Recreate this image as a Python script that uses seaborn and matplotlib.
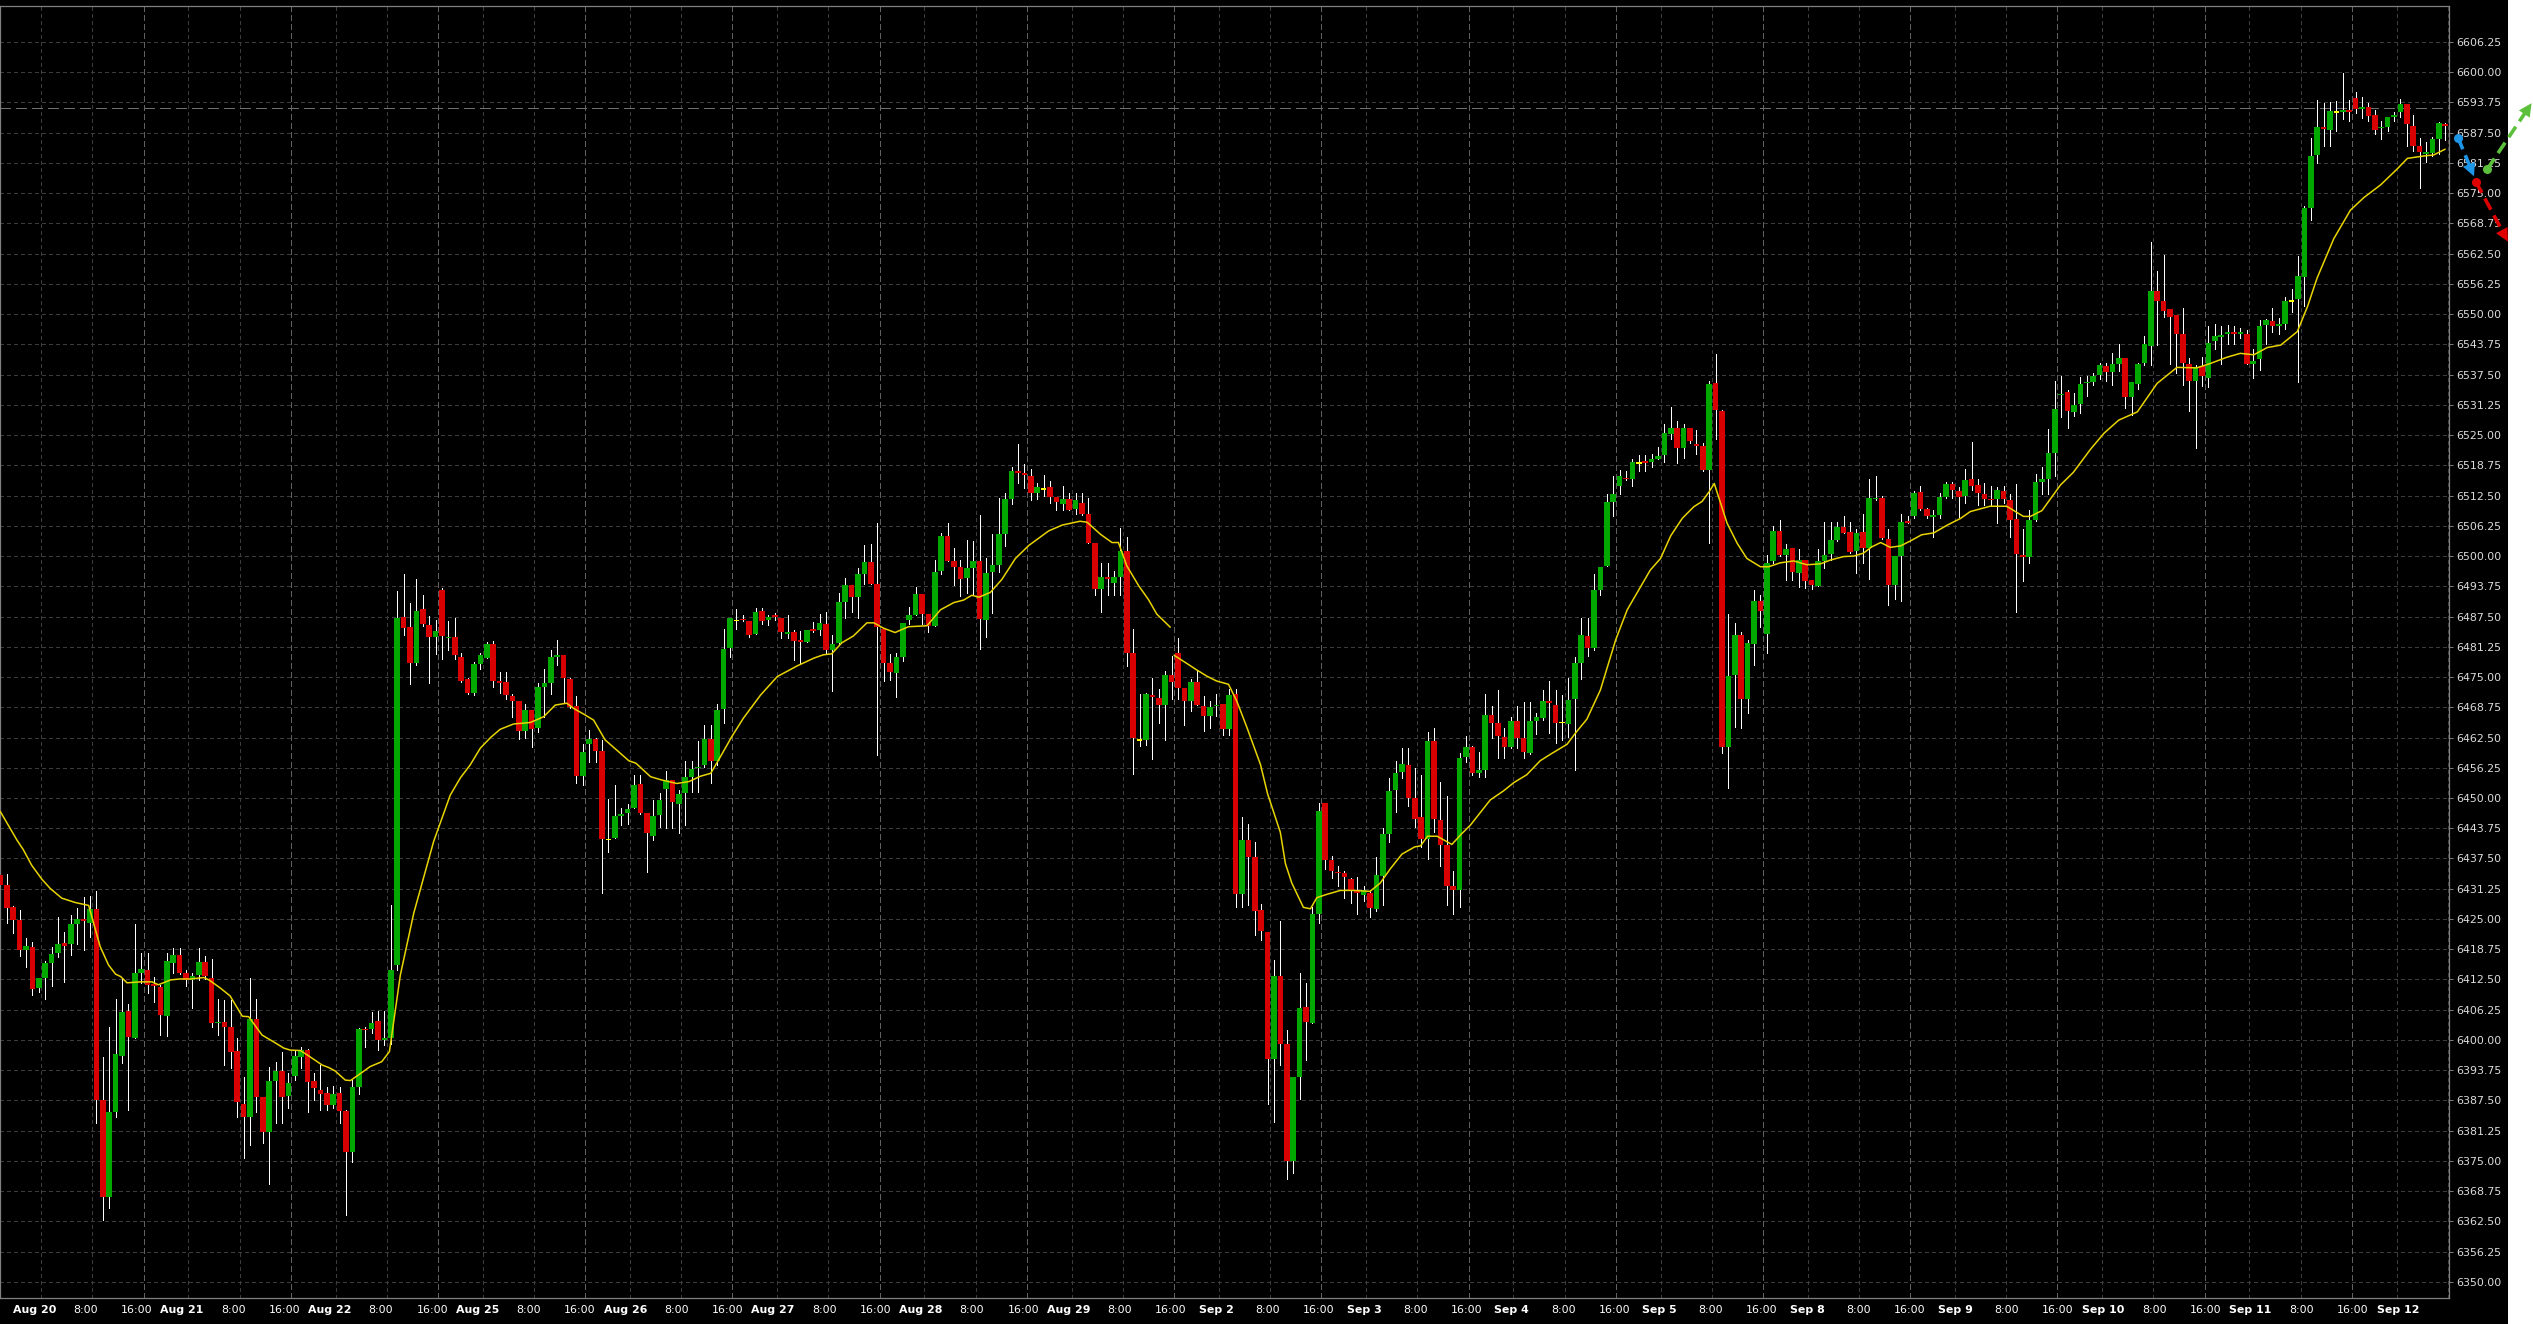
import numpy as np
import pandas as pd
import matplotlib
matplotlib.use("Agg")
import matplotlib.pyplot as plt
import seaborn as sns
from matplotlib.patches import Rectangle, Polygon

# ---------------- data (hourly bars) ----------------
open_ = [
6434.1, 6432.0, 6427.5, 6424.8, 6418.6, 6419.3, 6410.8, 6412.9, 6415.8, 6417.9,
6420.0, 6419.9, 6424.0, 6424.9, 6424.2, 6427.0, 6387.6, 6367.6, 6385.2, 6396.7,
6406.0, 6400.3, 6413.9, 6414.5, 6411.6, 6410.9, 6405.0, 6416.0, 6417.6, 6413.9,
6412.4, 6413.4, 6416.2, 6412.9, 6403.4, 6403.7, 6402.7, 6397.7, 6386.8, 6384.1,
6404.3, 6388.2, 6381.0, 6391.6, 6393.6, 6388.5, 6392.6, 6396.5, 6397.9, 6391.5,
6389.7, 6389.0, 6386.6, 6389.0, 6385.3, 6376.9, 6390.3, 6402.3, 6402.3, 6403.9,
6399.9, 6400.3, 6415.4, 6487.4, 6485.3, 6477.8, 6489.0, 6485.8, 6483.3, 6493.0,
6483.0, 6483.3, 6479.1, 6474.6, 6471.7, 6477.6, 6479.0, 6481.8, 6474.2, 6474.0,
6471.1, 6470.1, 6463.9, 6468.2, 6464.5, 6473.0, 6473.8, 6479.2, 6479.6, 6474.6,
6469.0, 6454.6, 6461.2, 6462.1, 6459.8, 6441.4, 6441.8, 6446.3, 6446.8, 6448.0,
6452.9, 6446.8, 6442.2, 6446.4, 6451.9, 6453.7, 6448.8, 6451.0, 6454.4, 6456.1,
6456.9, 6462.2, 6457.7, 6468.3, 6480.9, 6486.7, 6487.0, 6486.6, 6483.9, 6488.7,
6486.7, 6487.8, 6487.3, 6483.9, 6484.4, 6482.7, 6482.3, 6484.9, 6484.7, 6485.9,
6480.6, 6482.1, 6490.6, 6494.0, 6491.6, 6496.3, 6498.8, 6494.2, 6484.9, 6477.8,
6475.9, 6479.1, 6486.7, 6487.8, 6492.2, 6488.0, 6485.5, 6496.9, 6504.1, 6499.0,
6497.7, 6495.5, 6497.5, 6498.9, 6486.8, 6496.7, 6498.1, 6504.6, 6511.7, 6517.6,
6517.2, 6516.5, 6513.0, 6513.9, 6514.2, 6512.2, 6510.8, 6511.8, 6509.8, 6511.0,
6508.8, 6502.7, 6493.1, 6495.7, 6494.5, 6495.6, 6501.0, 6479.9, 6462.0, 6462.0,
6471.2, 6470.7, 6469.2, 6475.5, 6479.9, 6472.7, 6470.1, 6474.0, 6469.0, 6466.9,
6469.0, 6469.5, 6464.3, 6471.5, 6430.2, 6441.4, 6437.9, 6426.9, 6422.4, 6396.0,
6413.2, 6399.1, 6375.0, 6392.3, 6406.8, 6403.6, 6426.1, 6448.9, 6437.1, 6434.7,
6434.4, 6433.3, 6430.7, 6430.0, 6430.4, 6427.1, 6433.9, 6442.6, 6451.7, 6455.3,
6456.9, 6449.9, 6446.0, 6441.6, 6461.7, 6445.4, 6440.2, 6431.9, 6430.9, 6458.4,
6460.5, 6455.1, 6455.8, 6467.2, 6465.4, 6462.6, 6460.6, 6465.9, 6462.3, 6459.4,
6466.0, 6466.6, 6470.1, 6469.2, 6465.6, 6465.2, 6470.4, 6478.0, 6483.4, 6481.1,
6492.9, 6498.0, 6511.1, 6514.4, 6516.2, 6515.9, 6519.3, 6519.6, 6519.5, 6520.1,
6520.8, 6525.3, 6526.5, 6522.4, 6526.5, 6523.2, 6522.8, 6517.7, 6535.8, 6529.9,
6460.6, 6475.4, 6483.6, 6470.4, 6481.9, 6490.7, 6483.9, 6498.9, 6505.1, 6500.2,
6501.7, 6496.6, 6499.2, 6495.1, 6493.8, 6498.9, 6500.4, 6503.3, 6506.0, 6505.0,
6501.1, 6505.0, 6501.6, 6511.7, 6512.0, 6503.5, 6494.0, 6500.0, 6507.2, 6508.2,
6513.3, 6509.7, 6508.0, 6508.4, 6512.2, 6514.9, 6513.4, 6512.5, 6515.9, 6514.7,
6512.9, 6511.9, 6511.7, 6513.4, 6511.6, 6507.7, 6500.3, 6499.8, 6507.5, 6515.4,
6515.9, 6521.3, 6533.2, 6533.9, 6529.8, 6531.5, 6535.7, 6535.9, 6537.4, 6539.3,
6538.1, 6539.6, 6541.0, 6532.8, 6535.6, 6540.0, 6543.5, 6554.7, 6552.7, 6551.1,
6549.9, 6545.9, 6539.6, 6536.2, 6539.2, 6536.9, 6544.4, 6545.3, 6545.8, 6546.3,
6545.8, 6545.9, 6539.8, 6540.7, 6547.8, 6548.6, 6547.5, 6548.0, 6552.7, 6553.1,
6557.7, 6571.9, 6582.8, 6588.7, 6588.1, 6591.8, 6591.8, 6592.2, 6594.7, 6592.4,
6592.9, 6591.1, 6588.4, 6588.6, 6590.7, 6591.8, 6593.4, 6588.9, 6584.8, 6583.0,
6583.4, 6586.3, 6589.2]

high = [
6435.0, 6434.2, 6427.7, 6426.9, 6421.0, 6420.2, 6412.9, 6416.3, 6419.3, 6425.5,
6422.3, 6425.8, 6427.2, 6429.6, 6429.8, 6430.8, 6396.5, 6402.7, 6408.5, 6412.9,
6407.4, 6424.0, 6418.0, 6418.0, 6413.0, 6411.4, 6418.0, 6418.9, 6418.9, 6414.5,
6413.8, 6418.9, 6417.3, 6416.7, 6408.5, 6408.3, 6408.3, 6400.3, 6392.4, 6412.9,
6408.5, 6388.3, 6394.5, 6395.5, 6397.4, 6393.1, 6397.8, 6398.6, 6398.1, 6393.1,
6394.8, 6390.3, 6390.5, 6390.3, 6385.5, 6391.7, 6402.4, 6402.7, 6405.8, 6406.0,
6406.0, 6427.8, 6492.7, 6496.3, 6490.4, 6495.2, 6492.0, 6487.7, 6486.8, 6493.5,
6486.6, 6487.3, 6479.9, 6474.8, 6478.2, 6479.9, 6482.2, 6482.5, 6476.0, 6476.0,
6471.5, 6470.1, 6469.4, 6468.2, 6473.7, 6476.6, 6480.6, 6482.7, 6479.6, 6474.7,
6471.1, 6461.1, 6464.1, 6462.5, 6462.0, 6449.8, 6452.7, 6447.9, 6448.8, 6454.8,
6454.8, 6446.8, 6449.6, 6451.0, 6455.5, 6453.7, 6451.7, 6457.7, 6457.7, 6461.8,
6465.1, 6465.1, 6469.4, 6484.9, 6487.2, 6489.1, 6487.8, 6486.6, 6489.2, 6489.2,
6487.8, 6488.2, 6487.3, 6487.8, 6484.7, 6484.6, 6484.7, 6486.4, 6488.0, 6488.5,
6483.7, 6492.4, 6495.4, 6494.0, 6497.5, 6502.3, 6502.5, 6506.9, 6484.9, 6479.8,
6479.9, 6486.1, 6489.5, 6493.7, 6492.2, 6488.0, 6499.2, 6504.7, 6506.8, 6501.6,
6499.2, 6503.3, 6503.2, 6508.5, 6499.5, 6504.5, 6512.0, 6513.0, 6518.5, 6523.1,
6519.0, 6518.0, 6515.2, 6516.7, 6515.5, 6512.2, 6514.5, 6513.0, 6513.0, 6513.0,
6512.0, 6502.7, 6498.5, 6498.5, 6497.0, 6505.7, 6504.0, 6485.0, 6471.5, 6471.7,
6474.7, 6472.5, 6476.2, 6479.3, 6483.0, 6472.7, 6474.5, 6476.5, 6471.0, 6470.0,
6471.5, 6469.5, 6472.5, 6472.5, 6446.1, 6444.7, 6440.9, 6428.1, 6422.4, 6416.6,
6424.6, 6402.1, 6392.3, 6413.9, 6411.8, 6427.4, 6448.9, 6448.9, 6438.1, 6435.9,
6434.9, 6433.4, 6433.7, 6431.9, 6430.9, 6437.9, 6443.9, 6454.1, 6457.6, 6460.4,
6460.4, 6456.1, 6454.7, 6463.7, 6464.4, 6453.4, 6450.4, 6434.9, 6459.4, 6462.8,
6460.8, 6459.6, 6471.5, 6469.0, 6472.3, 6464.4, 6466.8, 6469.0, 6469.8, 6469.8,
6467.6, 6472.3, 6474.1, 6472.3, 6471.3, 6474.9, 6479.2, 6487.3, 6487.3, 6496.3,
6497.8, 6512.8, 6516.6, 6517.8, 6517.5, 6520.1, 6520.9, 6520.9, 6521.2, 6522.6,
6527.4, 6530.9, 6528.0, 6527.4, 6526.5, 6526.1, 6523.3, 6536.2, 6541.8, 6530.2,
6488.0, 6486.1, 6484.4, 6482.7, 6493.0, 6492.0, 6500.2, 6506.2, 6507.5, 6502.5,
6501.7, 6501.4, 6499.2, 6495.1, 6501.4, 6507.1, 6507.1, 6507.0, 6508.3, 6507.1,
6505.5, 6508.8, 6515.9, 6516.6, 6512.4, 6505.5, 6500.0, 6508.6, 6508.3, 6513.5,
6514.4, 6509.9, 6509.5, 6513.0, 6515.4, 6515.4, 6514.3, 6518.0, 6523.5, 6515.9,
6515.2, 6514.5, 6514.3, 6514.5, 6512.9, 6514.9, 6505.5, 6509.5, 6516.9, 6518.4,
6526.3, 6536.1, 6537.2, 6534.3, 6533.7, 6537.0, 6537.2, 6537.9, 6539.9, 6539.9,
6541.9, 6543.9, 6541.0, 6535.9, 6539.9, 6545.5, 6564.9, 6559.0, 6562.3, 6551.1,
6549.9, 6551.2, 6540.9, 6539.4, 6541.1, 6547.5, 6547.9, 6547.5, 6547.8, 6547.5,
6547.2, 6546.8, 6542.9, 6548.8, 6549.0, 6551.2, 6549.2, 6553.6, 6555.3, 6562.1,
6572.4, 6586.4, 6594.3, 6593.7, 6593.8, 6594.0, 6599.9, 6594.3, 6595.9, 6594.8,
6593.7, 6592.2, 6590.0, 6590.7, 6591.8, 6594.4, 6593.4, 6591.1, 6586.4, 6585.5,
6586.7, 6589.8, 6589.6]

low = [
6431.0, 6424.1, 6422.2, 6417.4, 6415.1, 6409.2, 6410.0, 6408.5, 6411.2, 6417.2,
6412.0, 6417.6, 6419.9, 6418.6, 6421.3, 6382.9, 6362.7, 6365.2, 6384.1, 6395.2,
6385.5, 6400.3, 6411.8, 6409.8, 6407.9, 6401.0, 6400.8, 6413.8, 6413.6, 6411.2,
6406.7, 6412.4, 6412.5, 6402.7, 6401.0, 6394.8, 6394.1, 6384.1, 6375.5, 6378.3,
6385.2, 6378.6, 6370.2, 6382.8, 6382.9, 6385.9, 6391.7, 6394.1, 6385.0, 6387.6,
6385.5, 6385.5, 6385.9, 6382.8, 6363.8, 6374.8, 6388.8, 6398.5, 6401.4, 6397.9,
6399.0, 6399.1, 6414.5, 6483.7, 6473.6, 6477.5, 6485.5, 6473.8, 6479.8, 6478.7,
6480.5, 6478.7, 6474.0, 6471.4, 6471.3, 6476.7, 6478.9, 6473.0, 6471.6, 6470.5,
6466.8, 6462.2, 6462.5, 6460.6, 6463.6, 6466.8, 6471.5, 6477.4, 6469.6, 6468.7,
6453.0, 6452.7, 6457.5, 6457.5, 6430.4, 6438.8, 6441.8, 6444.4, 6444.6, 6447.9,
6446.7, 6434.8, 6441.3, 6444.1, 6443.7, 6443.7, 6442.8, 6444.4, 6451.3, 6451.3,
6456.5, 6453.2, 6456.8, 6465.4, 6479.1, 6484.9, 6486.5, 6483.2, 6483.9, 6486.0,
6485.8, 6486.7, 6483.0, 6483.0, 6478.5, 6477.8, 6482.2, 6484.4, 6483.7, 6479.8,
6472.2, 6481.8, 6487.1, 6488.5, 6487.3, 6494.2, 6494.2, 6458.9, 6474.1, 6474.4,
6470.9, 6478.4, 6486.0, 6487.8, 6486.0, 6484.4, 6485.5, 6496.3, 6498.9, 6494.0,
6491.8, 6492.4, 6492.0, 6480.8, 6483.2, 6488.2, 6496.7, 6502.0, 6510.8, 6515.2,
6514.0, 6511.5, 6511.7, 6512.5, 6511.0, 6509.5, 6509.5, 6509.5, 6508.8, 6508.5,
6502.8, 6492.0, 6488.5, 6492.0, 6492.0, 6492.0, 6477.3, 6454.9, 6460.7, 6460.9,
6458.1, 6465.5, 6461.9, 6470.5, 6470.5, 6465.1, 6468.0, 6469.2, 6463.9, 6464.5,
6467.0, 6463.0, 6463.1, 6427.4, 6427.4, 6427.9, 6421.6, 6420.6, 6386.8, 6383.1,
6394.8, 6371.3, 6372.5, 6387.8, 6395.8, 6403.6, 6424.1, 6435.4, 6433.4, 6431.9,
6429.4, 6428.4, 6426.1, 6428.7, 6425.4, 6426.6, 6427.9, 6440.9, 6447.1, 6454.1,
6448.4, 6444.1, 6439.9, 6437.4, 6442.9, 6435.9, 6427.9, 6426.1, 6427.4, 6457.5,
6454.8, 6454.4, 6454.4, 6462.3, 6458.3, 6458.3, 6460.3, 6460.3, 6458.3, 6459.0,
6463.2, 6466.1, 6463.4, 6461.4, 6462.0, 6462.7, 6455.8, 6474.5, 6479.4, 6480.5,
6492.0, 6497.9, 6508.3, 6512.8, 6515.7, 6514.4, 6517.6, 6517.6, 6518.5, 6520.1,
6519.5, 6524.3, 6519.3, 6520.3, 6523.4, 6521.2, 6517.5, 6502.8, 6524.3, 6459.4,
6452.0, 6464.6, 6464.5, 6467.5, 6477.5, 6485.3, 6479.9, 6498.6, 6500.1, 6495.1,
6495.1, 6493.7, 6493.3, 6493.1, 6493.8, 6497.6, 6499.2, 6503.1, 6504.8, 6500.6,
6496.6, 6498.5, 6495.2, 6511.6, 6503.5, 6489.8, 6491.1, 6490.8, 6506.8, 6507.8,
6509.5, 6507.8, 6504.0, 6507.8, 6512.1, 6512.1, 6508.0, 6511.0, 6513.6, 6510.6,
6510.6, 6510.6, 6506.9, 6511.0, 6504.0, 6488.5, 6494.9, 6498.6, 6507.3, 6512.9,
6512.9, 6516.5, 6528.7, 6526.4, 6528.9, 6529.5, 6533.0, 6535.4, 6536.5, 6536.2,
6535.4, 6538.3, 6530.7, 6529.2, 6534.5, 6539.4, 6539.4, 6543.6, 6549.4, 6539.8,
6537.9, 6535.4, 6530.0, 6522.4, 6535.2, 6535.0, 6542.9, 6539.8, 6543.9, 6543.9,
6545.0, 6539.6, 6536.8, 6538.5, 6543.9, 6546.4, 6545.8, 6547.0, 6550.5, 6535.9,
6551.7, 6569.5, 6581.3, 6584.8, 6584.8, 6587.9, 6590.3, 6590.0, 6591.5, 6590.5,
6590.0, 6587.2, 6586.1, 6587.8, 6590.0, 6590.7, 6584.8, 6583.7, 6576.1, 6581.5,
6582.6, 6583.0, 6585.9]

close = [
6432.0, 6427.3, 6424.8, 6418.6, 6419.4, 6410.5, 6412.9, 6415.8, 6417.8, 6419.8,
6419.5, 6424.0, 6425.0, 6424.6, 6427.0, 6387.6, 6367.6, 6385.2, 6397.1, 6405.8,
6400.7, 6413.9, 6414.7, 6411.4, 6411.2, 6405.2, 6416.3, 6417.6, 6413.9, 6412.3,
6413.2, 6416.2, 6413.3, 6403.4, 6403.8, 6402.7, 6397.6, 6387.2, 6384.1, 6404.3,
6388.1, 6381.0, 6391.5, 6393.6, 6388.2, 6391.0, 6396.7, 6397.9, 6391.4, 6390.1,
6388.9, 6386.6, 6388.8, 6385.3, 6376.9, 6390.3, 6402.3, 6402.0, 6403.6, 6399.9,
6400.3, 6414.5, 6487.1, 6485.1, 6478.0, 6488.7, 6485.9, 6483.3, 6484.5, 6483.5,
6483.3, 6479.6, 6474.2, 6471.7, 6477.7, 6479.6, 6481.8, 6474.2, 6473.8, 6471.2,
6470.1, 6463.9, 6468.2, 6464.3, 6472.9, 6473.7, 6479.1, 6479.6, 6474.9, 6468.9,
6454.6, 6459.5, 6462.1, 6459.8, 6441.6, 6441.4, 6446.3, 6446.7, 6447.7, 6452.7,
6446.8, 6442.7, 6446.3, 6449.6, 6453.7, 6449.2, 6450.8, 6454.4, 6456.0, 6456.4,
6462.2, 6457.6, 6468.2, 6480.8, 6487.2, 6486.7, 6486.7, 6483.7, 6488.4, 6486.6,
6487.5, 6487.5, 6484.4, 6484.4, 6482.5, 6482.3, 6484.7, 6484.6, 6486.1, 6480.6,
6481.8, 6490.5, 6494.0, 6491.6, 6496.3, 6498.8, 6494.2, 6485.3, 6477.8, 6476.0,
6479.1, 6486.1, 6487.8, 6492.2, 6488.0, 6485.5, 6496.7, 6504.1, 6499.0, 6497.7,
6495.3, 6497.5, 6499.0, 6487.0, 6496.5, 6498.1, 6504.6, 6511.7, 6517.5, 6517.2,
6516.7, 6513.1, 6514.2, 6513.9, 6512.3, 6511.2, 6511.8, 6509.5, 6511.6, 6508.8,
6502.8, 6493.1, 6495.7, 6495.2, 6495.7, 6501.0, 6479.9, 6462.4, 6462.0, 6471.5,
6470.8, 6469.3, 6475.5, 6474.0, 6472.7, 6470.0, 6474.0, 6469.2, 6467.0, 6468.9,
6469.3, 6464.2, 6471.3, 6430.2, 6441.4, 6437.9, 6426.6, 6422.6, 6396.0, 6413.2,
6399.1, 6375.0, 6392.3, 6406.6, 6403.7, 6426.1, 6447.4, 6437.1, 6434.9, 6434.4,
6433.7, 6430.9, 6430.4, 6430.9, 6427.2, 6434.1, 6442.6, 6451.4, 6455.1, 6457.1,
6449.9, 6445.7, 6441.6, 6461.7, 6445.7, 6440.2, 6431.9, 6430.9, 6458.2, 6460.5,
6455.1, 6455.8, 6467.2, 6465.4, 6462.8, 6460.6, 6465.9, 6462.5, 6459.6, 6465.9,
6466.8, 6470.1, 6469.6, 6465.6, 6465.6, 6470.3, 6478.0, 6483.6, 6481.1, 6493.0,
6497.8, 6511.2, 6512.8, 6516.6, 6515.9, 6519.5, 6519.3, 6519.3, 6520.1, 6520.6,
6525.4, 6526.5, 6522.4, 6526.5, 6523.7, 6522.8, 6517.7, 6535.6, 6530.1, 6460.6,
6475.2, 6483.6, 6470.5, 6482.0, 6490.7, 6488.7, 6498.6, 6505.1, 6500.2, 6501.5,
6496.8, 6499.2, 6494.8, 6494.0, 6498.9, 6500.2, 6503.3, 6506.0, 6504.8, 6500.9,
6504.8, 6501.6, 6512.1, 6512.0, 6503.8, 6494.0, 6500.0, 6507.1, 6506.9, 6513.0,
6509.7, 6508.2, 6508.4, 6512.2, 6514.9, 6513.7, 6512.3, 6515.8, 6514.5, 6513.0,
6511.9, 6511.5, 6513.7, 6511.9, 6507.5, 6500.5, 6499.9, 6507.5, 6515.4, 6515.9,
6521.3, 6530.4, 6533.5, 6530.0, 6531.3, 6535.6, 6535.9, 6537.2, 6539.4, 6538.0,
6539.6, 6541.0, 6532.8, 6535.9, 6539.8, 6543.9, 6554.7, 6552.7, 6550.7, 6549.5,
6545.9, 6539.9, 6536.2, 6539.0, 6537.2, 6544.1, 6545.5, 6545.7, 6546.4, 6546.0,
6546.3, 6539.6, 6540.3, 6547.5, 6548.8, 6547.5, 6548.0, 6552.7, 6552.7, 6557.9,
6572.0, 6582.6, 6588.7, 6588.2, 6592.0, 6591.8, 6592.1, 6591.8, 6592.3, 6592.9,
6591.0, 6588.1, 6588.7, 6590.7, 6591.2, 6593.4, 6589.4, 6584.8, 6583.5, 6583.5,
6586.2, 6589.5, 6588.8]

# moving average (yellow), two segments, sampled off the chart: bar position, value
ma1_bar = [0.0, 2.6, 3.6, 4.9, 6.5, 7.8, 9.6, 11.7, 13.8, 15.6, 16.9, 18.0, 18.8, 19.8,
           21.9, 23.7, 24.7, 26.6, 28.1, 29.7, 31.8, 32.6, 34.4, 35.9, 37.8, 38.8, 40.9,
           42.7, 44.3, 45.3, 46.9, 48.4, 50.3, 51.3, 52.3, 53.9, 54.7, 56.0, 57.8, 59.6,
           60.8, 62.5, 64.6, 67.7, 70.3, 71.9, 73.4, 75.0, 76.6, 78.1, 80.2, 82.8, 84.9,
           86.7, 88.5, 89.6, 91.2, 92.7, 94.5, 96.4, 98.2, 99.3, 101.6, 103.4, 105.7,
           107.6, 109.4, 111.0, 112.5, 114.3, 116.1, 118.8, 121.4, 124.5, 127.1, 128.6,
           129.9, 131.5, 133.3, 135.4, 136.5, 138.0, 139.8, 141.9, 144.8, 146.9, 149.0,
           150.5, 151.8, 152.9, 154.7, 156.5, 158.6, 160.7, 163.8, 165.9, 168.7, 169.8,
           171.9, 173.7, 174.7, 176.0, 177.9, 179.4, 180.7, 182.8]
ma1_val = [6447.2, 6441.3, 6439.3, 6436.1, 6433.2, 6431.3, 6429.3, 6428.4, 6427.8, 6419.3,
           6415.5, 6413.6, 6413.1, 6411.8, 6412.0, 6412.0, 6411.4, 6412.4, 6412.6, 6412.6,
           6412.9, 6412.4, 6410.7, 6409.1, 6404.9, 6404.8, 6401.0, 6399.6, 6398.3, 6397.9,
           6397.8, 6396.5, 6394.8, 6394.3, 6393.6, 6391.7, 6391.6, 6392.8, 6394.5, 6395.5,
           6397.6, 6413.4, 6426.2, 6441.0, 6450.6, 6454.2, 6456.8, 6460.3, 6462.5, 6464.2,
           6465.3, 6465.6, 6466.8, 6469.2, 6469.6, 6468.5, 6467.3, 6466.1, 6462.0, 6459.8,
           6457.7, 6457.2, 6454.4, 6453.7, 6453.0, 6453.4, 6454.5, 6455.1, 6458.5, 6462.7,
           6466.5, 6471.3, 6475.1, 6477.3, 6478.9, 6479.6, 6479.8, 6482.1, 6483.5, 6486.2,
           6486.2, 6485.1, 6484.2, 6485.4, 6485.6, 6488.9, 6490.4, 6490.9, 6491.9, 6491.5,
           6492.5, 6495.2, 6499.5, 6502.2, 6505.2, 6506.4, 6507.2, 6507.0, 6504.5, 6502.8,
           6502.8, 6498.0, 6493.8, 6491.0, 6488.0, 6485.3]
ma2_bar = [183.4, 185.4, 186.9, 188.5, 190.0, 191.9, 193.2, 194.8, 196.9, 198.0, 200.0,
           200.8, 201.8, 203.6, 204.7, 205.7, 207.3, 209.4, 211.4, 214.0, 215.6, 217.2,
           219.0, 221.0, 221.9, 223.0, 224.5, 226.8, 228.4, 229.7, 232.8, 234.9, 236.5,
           238.5, 240.6, 242.4, 244.8, 246.1, 247.9, 250.0, 252.4, 254.2, 256.0, 257.8,
           259.4, 261.0, 262.8, 264.6, 265.9, 267.0, 267.8, 268.8, 269.8, 271.4, 272.9,
           275.0, 276.3, 278.1, 280.2, 282.3, 284.4, 286.0, 288.0, 289.6, 291.1, 292.4,
           293.8, 295.3, 296.9, 298.4, 300.2, 302.1, 304.2, 306.3, 307.8, 310.9, 313.5,
           316.1, 317.2, 319.0, 321.9, 323.9, 326.6, 328.7, 331.0, 333.9, 337.0, 340.1,
           343.2, 345.3, 347.9, 350.0, 352.1, 354.2, 356.3, 358.9, 360.5, 362.0, 364.6,
           367.2, 369.3, 371.9, 374.5, 376.1, 378.7, 380.2, 382.0]
ma2_val = [6479.5, 6477.8, 6476.5, 6475.2, 6474.2, 6473.5, 6470.0, 6464.5, 6456.9, 6450.9,
           6442.9, 6436.4, 6432.4, 6427.4, 6427.1, 6429.4, 6430.1, 6430.9, 6430.9, 6430.7,
           6432.4, 6435.4, 6438.4, 6439.9, 6440.1, 6442.1, 6442.1, 6440.4, 6442.7, 6444.4,
           6449.6, 6451.5, 6453.2, 6454.8, 6457.7, 6459.2, 6461.1, 6463.4, 6466.3, 6472.3,
           6482.7, 6488.9, 6493.0, 6497.1, 6499.5, 6504.2, 6507.8, 6510.2, 6511.3, 6513.3,
           6515.0, 6510.9, 6506.8, 6502.6, 6499.5, 6497.8, 6497.8, 6498.6, 6499.0, 6498.2,
           6498.4, 6499.2, 6499.9, 6500.0, 6500.6, 6501.9, 6502.8, 6501.8, 6502.1, 6503.1,
           6504.4, 6504.8, 6506.4, 6507.8, 6509.2, 6510.3, 6510.3, 6508.2, 6508.2, 6509.4,
           6514.7, 6517.3, 6522.1, 6525.4, 6528.1, 6529.8, 6535.7, 6539.0, 6538.9, 6539.8,
           6541.1, 6541.9, 6541.6, 6543.1, 6543.6, 6546.4, 6551.6, 6557.5, 6565.6, 6571.5,
           6574.1, 6576.7, 6580.0, 6582.2, 6582.7, 6582.9, 6584.1]

day_labels = ["Aug 20", "Aug 21", "Aug 22", "Aug 25", "Aug 26", "Aug 27", "Aug 28",
              "Aug 29", "Sep 2", "Sep 3", "Sep 4", "Sep 5", "Sep 8", "Sep 9",
              "Sep 10", "Sep 11", "Sep 12"]
hour_labels = ["8:00", "16:00"]
last_price = 6592.7
# projection arrows: start price, end price
proj_blue = (6586.5, 6578.5)
proj_red = (6577.4, 6565.0)
proj_green = (6580.0, 6593.6)

# ---------------- style ----------------
sns.set_theme(style="dark")
plt.rcParams["font.family"] = ["DejaVu Sans"]

W, H = 2533, 1324
fig = plt.figure(figsize=(W / 100, H / 100), dpi=100)
fig.patch.set_facecolor("black")
fig.add_artist(Rectangle((2508 / W, 0), 25 / W, 1, transform=fig.transFigure,
                         facecolor="white", edgecolor="none", zorder=-10))
ax = fig.add_axes([0, 26 / H, 2449 / W, 1292 / H])
ax.set_facecolor("black")

df = pd.DataFrame({"o": open_, "h": high, "l": low, "c": close})
df["x"] = np.arange(len(df))
x = df["x"].to_numpy()
o = df["o"].to_numpy(); c = df["c"].to_numpy()

XMIN, XMAX = -0.05, 382.6
YMIN, YMAX = 6346.66, 6613.69
ax.set_xlim(XMIN, XMAX)
ax.set_ylim(YMIN, YMAX)

# horizontal grid
yt = np.arange(6350.0, 6606.3, 6.25)
for v in yt:
    ax.axhline(v, color="#3c3c3c", lw=0.75, ls=(0, (3, 3)), zorder=0.5, antialiased=False)

# vertical grid + x labels
BARS_PER_DAY, FIRST_MIDNIGHT, GRID_SHIFT = 23, 5, 1.4
xt_pos, xt_lab, xt_bold = [], [], []
nd = len(day_labels)
for d, lab in enumerate(day_labels):
    base = FIRST_MIDNIGHT + BARS_PER_DAY * d
    drift = -1.1 + 1.4 * d / (nd - 1)
    for h, txt, bold in [(0, lab, True), (8, hour_labels[0], False), (16, hour_labels[1], False)]:
        g = base + h + GRID_SHIFT
        if g < XMAX:
            if h == 16:
                ax.axvline(g, color="#606060", lw=0.8, ls=(0, (5, 3)), zorder=0.5,
                           antialiased=False)
            else:
                ax.axvline(g, color="#3c3c3c", lw=0.75, ls=(0, (3, 3)), zorder=0.5,
                           antialiased=False)
        lx = g + drift
        if lx < 378:
            xt_pos.append(lx); xt_lab.append(txt); xt_bold.append(bold)

# last price line
ax.axhline(last_price, color="#707070", lw=0.9, ls=(0, (8, 4)), zorder=1, antialiased=False)

# candles
up = c > o
dn = c < o
eq = c == o
ax.vlines(x, df["l"], df["h"], colors="white", lw=0.72, zorder=2, antialiased=False)
ax.bar(x[up], (c - o)[up], bottom=o[up], width=0.88, color="#00a800", lw=0, zorder=3)
ax.bar(x[dn], (c - o)[dn], bottom=o[dn], width=0.88, color="#d80000", lw=0, zorder=3)
ax.bar(x[eq], 0.36, bottom=o[eq] - 0.18, width=0.88, color="#ffff00", lw=0, zorder=3)

# moving average
sns.lineplot(x=ma1_bar, y=ma1_val, ax=ax, color="#e8d400", lw=1.1, sort=False,
             estimator=None, zorder=4)
sns.lineplot(x=ma2_bar, y=ma2_val, ax=ax, color="#e8d400", lw=1.1, sort=False,
             estimator=None, zorder=4)
ax.set_xlim(XMIN, XMAX)
ax.set_ylim(YMIN, YMAX)
ax.set_xlabel(""); ax.set_ylabel("")

# axes / ticks
ax.yaxis.tick_right()
ax.set_yticks(yt)
ax.set_yticklabels([f"{v:.2f}" for v in yt])
ax.tick_params(axis="y", which="both", length=3, width=0.7, color="#808080",
               labelcolor="#dcdcdc", labelsize=7.9, pad=2, left=False, right=True)
ax.set_xticks(xt_pos)
ax.set_xticklabels(xt_lab)
ax.tick_params(axis="x", length=0, labelcolor="white", labelsize=7.9, pad=5)
for t, b in zip(ax.get_xticklabels(), xt_bold):
    t.set_fontweight("bold" if b else "normal")
ax.grid(False)
for s in ax.spines.values():
    s.set_visible(True)
    s.set_color("#808080")
    s.set_linewidth(0.9)

# projection arrows (drawn outside the plot area)
def arrow(x0, y0, x1, y1, col):
    T = ax.transData
    p0 = T.transform((x0, y0)); p1 = T.transform((x1, y1))
    u = (p1 - p0) / np.hypot(*(p1 - p0))
    n = np.array([-u[1], u[0]])
    L, Wd = 13.0, 13.0
    base = p1 - L * u
    line_end = T.inverted().transform(p1 - 0.7 * L * u)
    ax.plot([x0, line_end[0]], [y0, line_end[1]], color=col, lw=2.6,
            ls=(0, (3.5, 1.8)), dash_capstyle="butt", clip_on=False, zorder=6)
    tri = T.inverted().transform(np.array([p1, base + Wd / 2 * n, base - Wd / 2 * n]))
    ax.add_patch(Polygon(tri, closed=True, facecolor=col, edgecolor="none",
                         clip_on=False, zorder=7))
    ax.plot([x0], [y0], "o", ms=6.5, color=col, mec="none", clip_on=False, zorder=7)

arrow(384.0, proj_blue[0], 386.5, proj_blue[1], "#1e96e8")
arrow(386.8, proj_red[0], 391.8, proj_red[1], "#e00000")
arrow(388.6, proj_green[0], 395.5, proj_green[1], "#5cc03c")

fig.savefig("out.png", dpi=100, facecolor=fig.get_facecolor())
